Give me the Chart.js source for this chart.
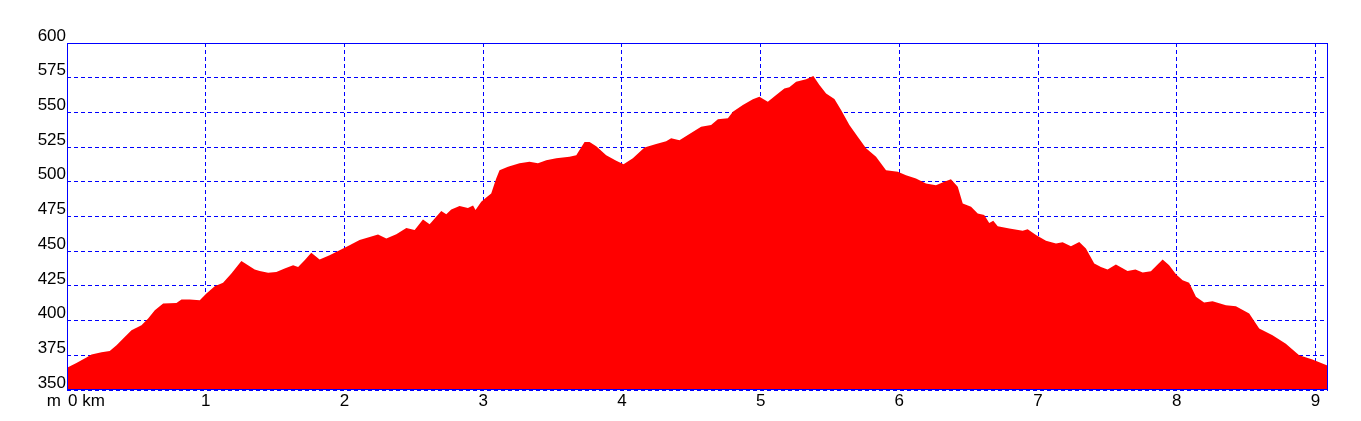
<!DOCTYPE html>
<html>
<head>
<meta charset="utf-8">
<title>Profil</title>
<script src="https://cdn.jsdelivr.net/npm/chart.js@4/dist/chart.umd.min.js"></script>
<style>
  html, body { margin: 0; padding: 0; background: #fff; }
  canvas { display: block; }
</style>
</head>
<body>
<canvas id="profile" width="1361" height="421"></canvas>
<script>
// --- Data ---
const distanceKm = [
    0, 0.068, 0.140, 0.177, 0.249, 0.308, 0.357, 0.416, 0.465, 0.537,
    0.585, 0.633, 0.693, 0.789, 0.825, 0.885, 0.957, 1.005, 1.065, 1.125,
    1.185, 1.257, 1.305, 1.353, 1.389, 1.450, 1.509, 1.569, 1.630, 1.666,
    1.713, 1.761, 1.821, 1.893, 1.965, 2.037, 2.109, 2.182, 2.242, 2.302,
    2.374, 2.446, 2.506, 2.566, 2.614, 2.698, 2.734, 2.770, 2.830, 2.890,
    2.927, 2.945, 2.986, 3.022, 3.058, 3.094, 3.118, 3.179, 3.262, 3.334,
    3.395, 3.455, 3.527, 3.622, 3.671, 3.731, 3.767, 3.815, 3.887, 3.959,
    4.012, 4.079, 4.163, 4.247, 4.319, 4.355, 4.415, 4.487, 4.571, 4.643,
    4.692, 4.764, 4.800, 4.872, 4.944, 4.991, 5.052, 5.112, 5.171, 5.207,
    5.256, 5.328, 5.380, 5.424, 5.472, 5.532, 5.580, 5.640, 5.700, 5.760,
    5.832, 5.904, 5.989, 6.048, 6.120, 6.192, 6.264, 6.324, 6.372, 6.421,
    6.457, 6.517, 6.565, 6.612, 6.648, 6.677, 6.709, 6.793, 6.889, 6.925,
    6.985, 7.057, 7.129, 7.177, 7.237, 7.297, 7.345, 7.405, 7.453, 7.501,
    7.561, 7.645, 7.702, 7.754, 7.813, 7.898, 7.945, 7.994, 8.042, 8.089,
    8.138, 8.197, 8.258, 8.354, 8.426, 8.522, 8.594, 8.690, 8.786, 8.882,
    8.978, 9.090
];
const elevationM = [
    366, 369.5, 373.4, 375.5, 377.2, 378.1, 382.2, 388.2, 393, 396.7,
    401.5, 407.5, 412.3, 412.7, 415.2, 415.2, 414.7, 419.5, 424.8, 427.2,
    433.9, 443, 439.9, 436.8, 435.8, 434.4, 435.1, 437.5, 439.9, 438.7,
    443.5, 448.8, 444, 447.1, 450.7, 454.3, 458, 460.3, 462, 459.2,
    462.3, 466.8, 465.2, 472.9, 469.5, 478.9, 476.7, 480.1, 482.5, 481.2,
    483, 479.6, 485.6, 488.7, 491.6, 502.4, 508.4, 510.8, 513.3, 514.4,
    513.3, 515.6, 516.9, 518, 519.2, 528.6, 528.6, 525.7, 519.2, 515.1,
    512.7, 516.9, 524.8, 527.2, 529.3, 531.3, 530, 534.4, 539.6, 540.9,
    545, 545.7, 550.5, 555.3, 559.4, 561.3, 557.7, 562.5, 567.3, 568.1,
    572.1, 573.8, 576.2, 569.7, 563.7, 559.6, 551.7, 540.9, 532.4, 524.1,
    518, 508.4, 507.2, 504.8, 502.4, 498.8, 497.6, 500, 501.9, 496.4,
    484.4, 482, 477.2, 476, 470.4, 471.9, 468, 466.4, 464.7, 465.9,
    461.6, 457.5, 455.6, 456.5, 453.6, 456.7, 452, 441.1, 438.7, 436.8,
    440.4, 435.8, 436.8, 434.7, 435.6, 444, 439.9, 433.4, 429.1, 427.2,
    417.1, 413, 414, 411.1, 410.4, 405.1, 394.3, 389.4, 383.4, 375,
    371.9, 367.5
];
const xTicks = [0, 1, 2, 3, 4, 5, 6, 7, 8, 9];
const yTicks = [350, 375, 400, 425, 450, 475, 500, 525, 550, 575, 600];
const xUnit = 'km';
const yUnit = 'm';

const BLUE = '#0000ff';
const FONT = { family: '"Liberation Sans", Arial, sans-serif', size: 17 };

// --- Frame + unit labels at the origin ---
const framePlugin = {
    id: 'frame',
    afterDraw(chart) {
        const { ctx, chartArea: a, scales } = chart;
        ctx.save();
        ctx.strokeStyle = BLUE;
        ctx.lineWidth = 1;
        ctx.strokeRect(a.left + 0.5, a.top + 0.5, a.right - a.left - 1, a.bottom - a.top - 1);

        const x0 = scales.x.getPixelForValue(xTicks[0]);
        const yText = a.bottom + 11;
        ctx.fillStyle = '#000';
        ctx.font = `${FONT.size}px ${FONT.family}`;
        ctx.textBaseline = 'middle';
        ctx.textAlign = 'right';
        ctx.fillText(yUnit, x0 - 6, yText);
        ctx.textAlign = 'left';
        ctx.fillText(`${xTicks[0]} ${xUnit}`, x0 + 1, yText);
        ctx.restore();
    }
};

new Chart(document.getElementById('profile'), {
    type: 'line',
    data: {
        datasets: [{
            data: distanceKm.map((d, i) => ({ x: d, y: elevationM[i] })),
            backgroundColor: '#ff0000',
            borderWidth: 0,
            pointRadius: 0,
            fill: 'start',
            tension: 0
        }]
    },
    options: {
        responsive: false,
        animation: false,
        layout: { padding: { left: 0, top: 43, right: 33, bottom: 0 } },
        plugins: { legend: { display: false }, tooltip: { enabled: false } },
        scales: {
            x: {
                type: 'linear',
                min: 0,
                max: 9.09,
                z: 1,
                afterFit: s => { s.height = 31; },
                afterBuildTicks: s => { s.ticks = xTicks.map(v => ({ value: v })); },
                grid: { color: BLUE, lineWidth: 1, drawTicks: false },
                border: { display: false, dash: [4, 3] },
                ticks: {
                    color: '#000',
                    font: FONT,
                    padding: 1,
                    maxRotation: 0,
                    autoSkip: false,
                    callback: v => (v === 0 ? '' : String(v))
                }
            },
            y: {
                min: 350,
                max: 600,
                z: 1,
                afterFit: s => { s.width = 67; },
                afterBuildTicks: s => { s.ticks = yTicks.map(v => ({ value: v })); },
                grid: { color: BLUE, lineWidth: 1, drawTicks: false },
                border: { display: false, dash: [4, 3] },
                ticks: {
                    color: '#000',
                    font: FONT,
                    padding: 1,
                    labelOffset: -7,
                    autoSkip: false
                }
            }
        }
    },
    plugins: [framePlugin]
});
</script>
</body>
</html>
